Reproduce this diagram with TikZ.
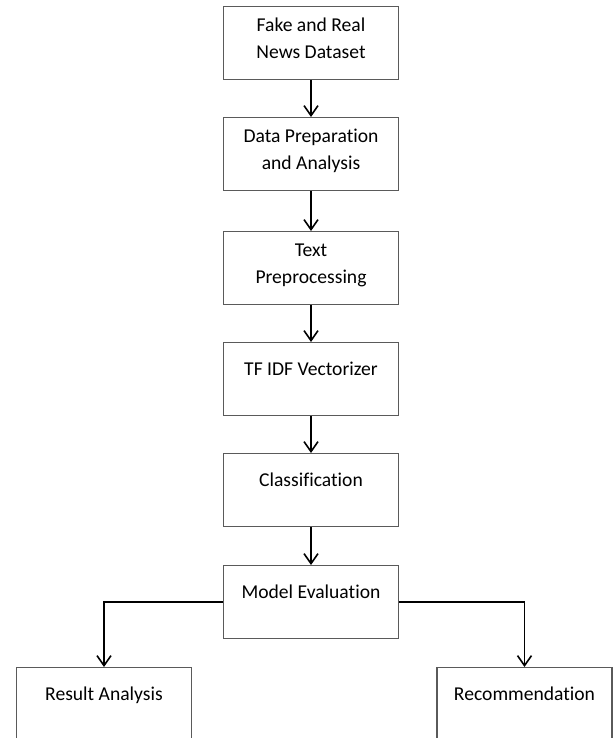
\documentclass[tikz,border=0pt]{standalone}
\usepackage{fontspec}
\setmainfont[Ligatures=NoCommon]{Carlito}
\usetikzlibrary{arrows.meta}

\definecolor{boxgray}{HTML}{5a5a5a}

\begin{document}
\begin{tikzpicture}[x=0.5pt, y=-0.5pt,
    stagebox/.style={draw=boxgray, line width=0.6pt, anchor=north, minimum width=87.5pt,
      inner ysep=0pt, inner xsep=2pt, text height=16.5pt, text depth=20pt,
      font=\fontsize{9.8pt}{13.5pt}\selectfont},
    twoline/.style={stagebox, align=center, text height=26pt, text depth=10.5pt},
    flow/.style={line width=0.8pt, -{Straight Barb[length=5pt, width=7pt]}}]
  \useasboundingbox (0,0) rectangle (615,738);
  \clip (0,0) rectangle (615,738);
  \node[twoline] (dataset) at (311,6) {Fake and Real\\News Dataset};
  \node[twoline] (prep) at (311,117) {Data Preparation\\and Analysis};
  \node[twoline] (preproc) at (311,231) {Text\\Preprocessing};
  \node[stagebox] (tfidf) at (311,342) {TF IDF Vectorizer};
  \node[stagebox] (classif) at (311,453) {Classification};
  \node[stagebox] (evalm) at (311,565) {Model Evaluation};
  \node[stagebox] (result) at (104,667) {Result Analysis};
  \node[stagebox] (recomm) at (524.5,667) {Recommendation};
  \draw[flow] (dataset) -- (prep);
  \draw[flow] (prep) -- (preproc);
  \draw[flow] (preproc) -- (tfidf);
  \draw[flow] (tfidf) -- (classif);
  \draw[flow] (classif) -- (evalm);
  \draw[flow] (evalm.west) -| (result.north);
  \draw[flow] (evalm.east) -| (recomm.north);
\end{tikzpicture}
\end{document}
